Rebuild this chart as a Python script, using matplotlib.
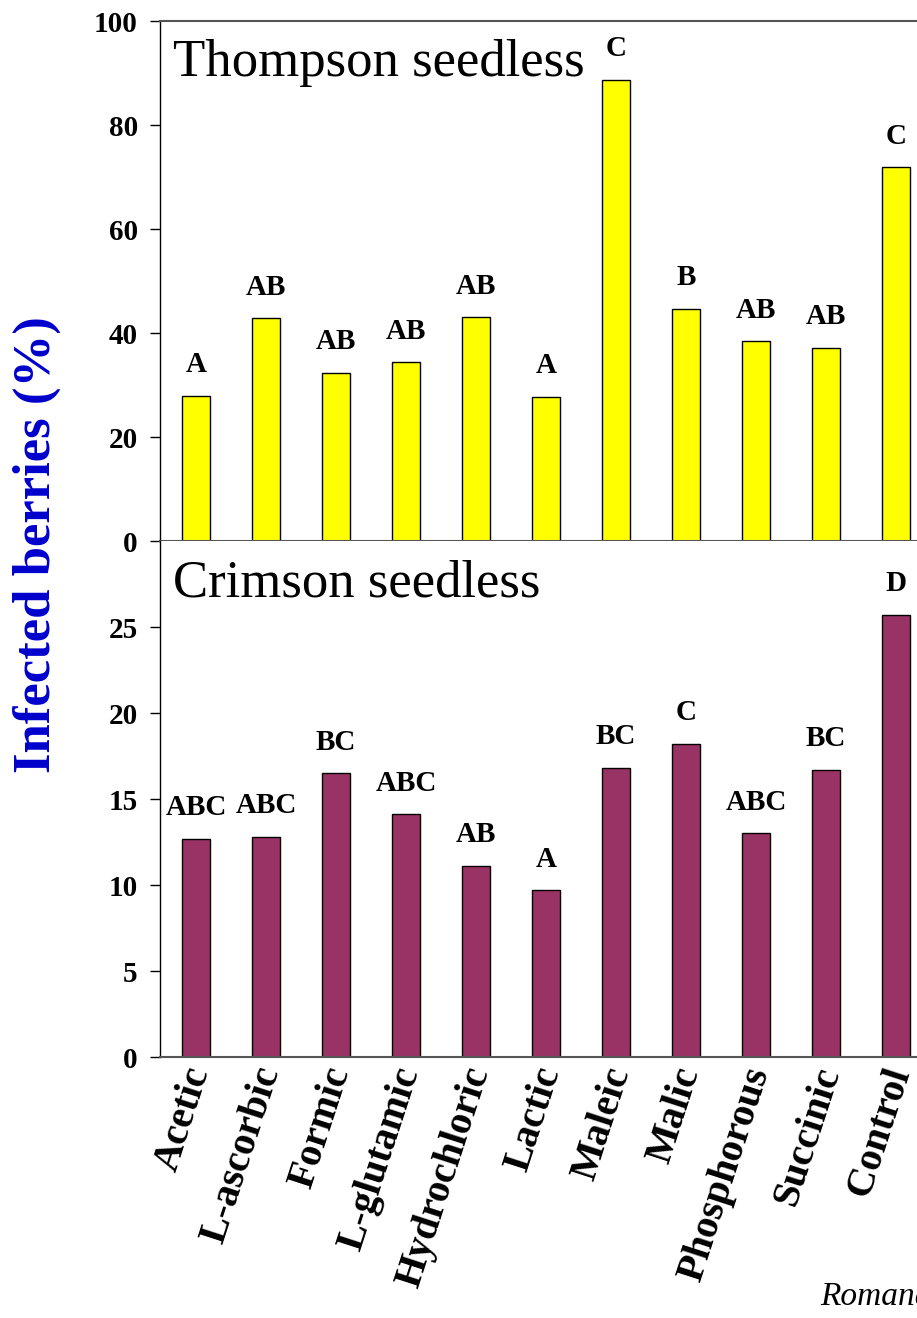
import matplotlib
matplotlib.use("Agg")
import matplotlib.pyplot as plt
import matplotlib.transforms as mtransforms

plt.rcParams["font.family"] = ["Liberation Serif", "DejaVu Serif"]

# Treatments (acids) and control
categories = ["Acetic", "L-ascorbic", "Formic", "L-glutamic", "Hydrochloric",
              "Lactic", "Maleic", "Malic", "Phosphorous", "Succinic", "Control"]

# Infected berries (%) per cultivar
thompson_values = [27.9, 42.8, 32.4, 34.4, 43.0, 27.7, 88.7, 44.6, 38.4, 37.1, 71.9]
thompson_letters = ["A", "AB", "AB", "AB", "AB", "A", "C", "B", "AB", "AB", "C"]

crimson_values = [12.7, 12.8, 16.5, 14.1, 11.1, 9.7, 16.8, 18.2, 13.0, 16.7, 25.7]
crimson_letters = ["ABC", "ABC", "BC", "ABC", "AB", "A", "BC", "C", "ABC", "BC", "D"]

thompson_ticks = [0, 20, 40, 60, 80, 100]
crimson_ticks = [0, 5, 10, 15, 20, 25]

W, H = 917, 1318
fig = plt.figure(figsize=(W / 100, H / 100), dpi=100)

left = 160 / W
width = 771 / W
ax1 = fig.add_axes([left, 1 - 541 / H, width, 520 / H])
ax2 = fig.add_axes([left, 1 - 1057 / H, width, 516 / H])

x = list(range(len(categories)))


def draw_panel(ax, values, letters, color, ylim, ticks, title):
    ax.bar(x, values, width=0.4, color=color, edgecolor="black", linewidth=1.0, zorder=2)
    for xi, v, lab in zip(x, values, letters):
        ax.annotate(lab, (xi, v), xytext=(0, 17), textcoords="offset points",
                    ha="center", va="baseline", fontsize=21, fontweight="bold")
    ax.set_xlim(-0.514, 10.5)
    ax.set_ylim(*ylim)
    ax.set_yticks(ticks)
    ax.set_yticklabels([str(t) for t in ticks])
    ax.tick_params(axis="y", direction="out", length=7, width=1, pad=9,
                   labelsize=21)
    for lbl in ax.get_yticklabels():
        lbl.set_fontweight("bold")
    ax.tick_params(axis="x", length=0)
    ax.spines["left"].set_color("black")
    ax.spines["left"].set_linewidth(1.0)
    for s in ("top", "right", "bottom"):
        ax.spines[s].set_color("#555555")
        ax.spines[s].set_linewidth(1.5)
    ax.text(0.017, 0.965, title, transform=ax.transAxes, ha="left", va="top",
            fontsize=38)


draw_panel(ax1, thompson_values, thompson_letters, "#FFFF00", (0, 100),
           thompson_ticks, "Thompson seedless")
ax1.set_xticks(x)
ax1.set_xticklabels([])

draw_panel(ax2, crimson_values, crimson_letters, "#993366", (0, 30),
           crimson_ticks, "Crimson seedless")
ax2.spines["top"].set_visible(False)
ax2.set_xticks(x)
ax2.set_xticklabels(categories, rotation=72, ha="right", va="center",
                    rotation_mode="anchor", fontsize=29, fontweight="bold")
ax2.tick_params(axis="x", pad=8)

# nudge the slanted category names slightly to the right
shift = mtransforms.ScaledTranslation(4 / 100, 0, fig.dpi_scale_trans)
for lbl in ax2.get_xticklabels():
    lbl.set_transform(lbl.get_transform() + shift)

fig.text(37 / W, 1 - 545 / H, "Infected berries (%)", rotation=90,
         ha="center", va="center", fontsize=38, fontweight="bold",
         color="#0000CC")

fig.text(820 / W, 1 - 1305 / H, "Romanazzi et al.", ha="left", va="baseline",
         fontsize=24, style="italic")

fig.savefig("out.png", dpi=100)
